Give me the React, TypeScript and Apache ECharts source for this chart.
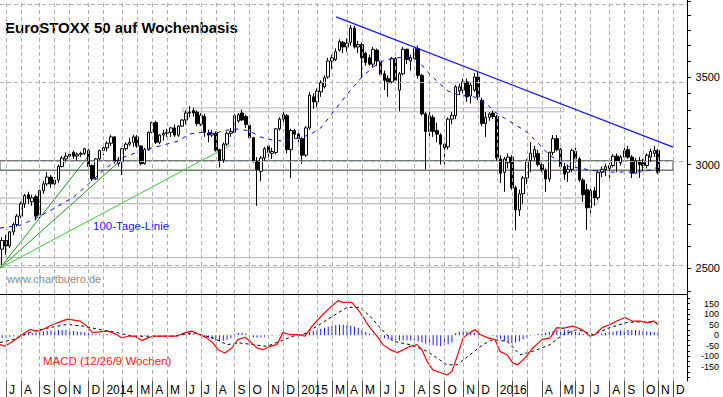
import React, { useEffect, useRef } from "react";
import * as echarts from "echarts";

const W = 723;
const H = 397;
const FONT = "Arial, 'Liberation Sans', Helvetica, sans-serif";

// Weekly candles (Friday-dated weeks, first = 2013-06-21), [open, close, low, high]
const candles2013 = [
  [2690, 2550, 2530, 2720], [2585, 2625, 2512, 2640], [2625, 2600, 2560, 2650], [2600, 2665, 2590, 2670],
  [2665, 2700, 2650, 2710], [2700, 2740, 2690, 2750], [2740, 2800, 2730, 2810], [2800, 2840, 2780, 2850],
  [2845, 2825, 2800, 2860], [2810, 2830, 2790, 2845], [2835, 2740, 2720, 2845], [2745, 2865, 2730, 2870],
  [2865, 2900, 2850, 2915], [2900, 2935, 2890, 2960], [2935, 2900, 2880, 2945], [2900, 2920, 2880, 2935],
  [2920, 2990, 2905, 3000], [2990, 3035, 2985, 3045], [3030, 3045, 3010, 3065], [3045, 3055, 3020, 3065],
  [3065, 3045, 3030, 3075], [3045, 3055, 3020, 3065], [3055, 3060, 3040, 3070], [3060, 3085, 3050, 3090],
  [3075, 2990, 2980, 3085], [2995, 2925, 2915, 3000], [2925, 3030, 2920, 3035], [3030, 3075, 3025, 3080],
];
const candles2014 = [
  [3075, 3090, 3050, 3110], [3090, 3115, 3070, 3125], [3115, 3150, 3100, 3160], [3150, 3015, 3005, 3155],
  [3005, 3020, 2990, 3040], [3015, 3085, 2945, 3090], [3085, 3110, 3075, 3120], [3110, 3120, 3100, 3145],
  [3120, 3150, 3095, 3160], [3150, 3100, 3090, 3160], [3100, 3005, 2995, 3105], [3005, 3080, 3000, 3090],
  [3080, 3175, 3075, 3180], [3175, 3230, 3170, 3235], [3230, 3120, 3110, 3240], [3120, 3160, 3110, 3165],
  [3160, 3170, 3130, 3190], [3170, 3175, 3150, 3195], [3175, 3200, 3150, 3205], [3200, 3160, 3150, 3220],
  [3160, 3210, 3150, 3215], [3210, 3245, 3205, 3250], [3245, 3285, 3220, 3300], [3285, 3290, 3260, 3325],
  [3300, 3285, 3265, 3315], [3290, 3225, 3210, 3300], [3220, 3272, 3210, 3285], [3265, 3175, 3150, 3280],
  [3170, 3160, 3120, 3190], [3160, 3170, 3150, 3190], [3170, 3075, 3070, 3180], [3080, 3020, 2985, 3085],
  [3025, 3110, 3010, 3120], [3110, 3170, 3100, 3180], [3170, 3180, 3150, 3200], [3175, 3270, 3170, 3280],
  [3240, 3275, 3230, 3285], [3285, 3245, 3240, 3305], [3265, 3220, 3200, 3275], [3215, 3145, 3135, 3225],
  [3145, 3020, 3010, 3150], [3015, 2975, 2790, 3040], [2965, 3035, 2915, 3045], [3035, 3085, 3020, 3095],
  [3100, 3065, 3040, 3110], [3060, 3070, 3030, 3090], [3065, 3195, 3055, 3200], [3195, 3250, 3185, 3260],
  [3250, 3275, 3215, 3300], [3270, 3080, 3060, 3280], [3080, 3185, 2930, 3195], [3185, 3165, 3140, 3195],
];
const candles2015 = [
  [3165, 3140, 3120, 3180], [3140, 3050, 3005, 3150], [3050, 3200, 3040, 3210], [3200, 3390, 3190, 3410],
  [3380, 3350, 3310, 3400], [3350, 3415, 3320, 3430], [3410, 3465, 3380, 3480], [3440, 3495, 3430, 3510],
  [3500, 3600, 3490, 3620], [3600, 3620, 3550, 3640], [3610, 3660, 3600, 3680], [3670, 3725, 3660, 3740],
  [3720, 3690, 3650, 3730], [3690, 3715, 3660, 3745], [3720, 3815, 3700, 3836], [3815, 3690, 3680, 3830],
  [3690, 3705, 3650, 3730], [3705, 3620, 3500, 3720], [3650, 3590, 3570, 3660], [3620, 3580, 3570, 3640],
  [3580, 3675, 3560, 3690], [3670, 3600, 3570, 3680], [3600, 3515, 3500, 3610], [3520, 3480, 3420, 3540],
  [3490, 3465, 3380, 3510], [3470, 3615, 3460, 3625], [3615, 3480, 3460, 3625], [3420, 3520, 3295, 3530],
  [3520, 3675, 3510, 3690], [3675, 3610, 3580, 3680], [3600, 3620, 3540, 3640], [3615, 3680, 3600, 3690],
  [3680, 3510, 3490, 3700], [3510, 3280, 3270, 3520], [3280, 3180, 2975, 3290], [3180, 3270, 3150, 3290],
  [3260, 3180, 3150, 3275], [3185, 3165, 3120, 3230], [3160, 3110, 3000, 3170], [3110, 3090, 2990, 3120],
  [3095, 3250, 3080, 3260], [3250, 3270, 3220, 3290], [3270, 3440, 3250, 3450], [3415, 3440, 3390, 3460],
  [3420, 3470, 3400, 3490], [3470, 3380, 3350, 3490], [3385, 3450, 3340, 3470], [3420, 3500, 3410, 3525],
  [3500, 3380, 3360, 3530], [3360, 3225, 3210, 3375], [3225, 3260, 3150, 3290], [3260, 3280, 3240, 3290],
  [3285, 3265, 3250, 3300],
];
const candles2016 = [
  [3265, 3035, 3020, 3275], [3030, 2955, 2905, 3050], [2960, 3030, 2860, 3040], [3010, 3040, 2980, 3060],
  [3040, 2880, 2870, 3050], [2880, 2770, 2672, 2890], [2770, 2850, 2740, 2870], [2850, 2930, 2800, 2940],
  [2930, 3015, 2900, 3030], [3020, 3060, 2960, 3120], [3040, 3080, 3020, 3100], [3060, 3000, 2990, 3080],
  [3000, 2975, 2960, 3010], [2970, 2925, 2860, 2980], [2925, 3065, 2910, 3070], [3065, 3140, 3050, 3160],
  [3140, 3080, 3070, 3160], [3080, 2990, 2980, 3090], [2990, 2950, 2920, 3010], [2960, 2975, 2910, 3000],
  [2975, 3075, 2960, 3085], [3070, 3030, 3010, 3090], [3030, 2920, 2910, 3040], [2920, 2845, 2810, 2930],
  [2870, 2780, 2675, 2900], [2780, 2865, 2740, 2880], [2865, 2830, 2790, 2885], [2830, 2960, 2820, 2970],
  [2960, 2975, 2935, 2990], [2975, 2990, 2940, 3005], [2980, 2995, 2925, 3010], [2995, 3045, 2985, 3055],
  [3045, 3020, 2960, 3060], [3010, 3040, 2995, 3050], [3040, 3075, 3025, 3090], [3080, 3040, 3030, 3100],
  [3040, 2955, 2930, 3050], [2955, 3020, 2950, 3035], [3020, 3000, 2930, 3040], [3010, 2995, 2965, 3030],
  [2995, 3050, 2980, 3060], [3040, 3070, 3015, 3085], [3060, 3075, 3040, 3100], [3075, 2960, 2950, 3085],
];

// 100-day moving average: [week index, level]
const MA_PTS = [
  [0.4, 2683], [6, 2697], [10, 2730], [15, 2779], [20, 2833], [24, 2899], [28, 2971], [32, 3029], [38, 3073],
  [43, 3100], [48, 3127], [51, 3166], [55, 3177], [58, 3172], [61, 3188], [64, 3194], [67, 3183], [70, 3149],
  [73, 3133], [76, 3127], [80, 3144], [83, 3161], [86, 3200], [88.5, 3268], [91, 3338], [94, 3421], [97, 3500],
  [100, 3562], [103, 3606], [106, 3619], [109, 3626], [112, 3606], [114, 3543], [117, 3475], [120, 3415],
  [123, 3391], [127, 3379], [130, 3344], [132.5, 3291], [135, 3256], [138, 3217], [141, 3177], [144.5, 3105],
  [147, 3051], [150, 3014], [152.5, 2987], [155, 2982], [158, 2971], [162, 2961], [166, 2961], [171, 2961],
  [174, 2971], [176, 2987],
];

// drawn lines: [week index, level]
const TREND_LINE = [[90.1, 3890], [180, 3094]];
const FAN_A = [[0.4, 2500], [24.4, 3055]];
const FAN_B = [[0.4, 2500], [32.7, 3024]];
const FAN_C = [[0.4, 2500], [62.0, 3105]];

// zones: [from week, to week, low, high]
const ZONES = [
  [49.2, 150.9, 3292, 3315],
  [0.4, 180, 2970, 3021],
  [0.4, 160, 2800, 2829],
  [0.4, 138.9, 2504, 2547],
];

// MACD lines: [week index, value]
const MACD_PTS = [
  [0.4, -45], [1.7, -53], [3.9, -29], [6.3, 3], [8.4, 27], [10.3, 19], [11.9, 27], [14.5, 51], [16.9, 67],
  [18.5, 76], [21.7, 67], [23.6, 43], [25, 12], [27.1, 16], [29.2, 19], [31.1, 7], [33, -13], [34.6, -5],
  [36.4, -5], [38.3, -25], [39.9, -13], [41.2, -5], [45, -5], [47.6, -5], [49.8, 12], [51.6, 19], [53.2, 7],
  [55.6, -13], [57.2, -37], [58.6, -69], [60.4, -85], [62.3, -61], [63.9, -21], [65.8, -10], [67.1, -29],
  [69, -61], [70.6, -69], [72.5, -53], [74.3, -45], [75.9, 12], [77.8, 3], [79.9, 3], [81.8, -5], [83.7, 43],
  [85.8, 84], [88.5, 132], [90.6, 164], [91.9, 156], [94.3, 156], [96.5, 108], [99.1, 36], [101, -5],
  [102.6, -45], [104.5, -69], [106.4, -83], [108, -69], [109.8, -53], [111.7, -45], [113, -69], [114.4, -125],
  [115.9, -165], [118.4, -181], [119.7, -189], [121, -173], [122.4, -101], [124, -13], [125.8, 12],
  [127.2, 27], [128.5, 3], [130.6, -13], [132.5, -21], [133.8, -77], [135.7, -93], [137.3, -133],
  [138.6, -141], [140.5, -109], [142.6, -61], [145, -21], [147.2, -13], [149, 36], [150.6, 32], [153.3, 43],
  [155.7, 27], [157.9, -5], [159.2, 3], [161.1, 36], [163.2, 51], [165, 67], [167.2, 84], [169.1, 67],
  [171.2, 67], [173.1, 60], [174.7, 67], [176, 51],
];
const SIGNAL_PTS = [
  [0.4, -35], [3.9, -21], [9.2, 19], [13.7, 36], [18.3, 51], [22.6, 43], [27.1, 27], [31.6, 12], [35.9, -5],
  [40.4, -5], [46.6, -5], [51.9, 12], [57.2, -13], [61, -45], [64.4, -37], [67.9, -45], [71.7, -53],
  [75.1, -29], [78.6, -5], [81.3, 3], [85, 43], [89.3, 91], [93, 132], [96.5, 132], [99.1, 91], [101.8, 36],
  [105.3, -29], [109.8, -45], [114.4, -77], [119.7, -141], [122.4, -141], [125.8, -93], [129.3, -45],
  [132, -21], [135.7, -29], [139.2, -93], [142.6, -77], [147.2, -45], [150.7, 3], [154.4, 27], [158.7, 3],
  [163.2, 36], [167.7, 60], [172, 64], [175.7, 60],
];
// histogram, one value per week from week 0
const HIST = [
  -10, -12, -10, -8, -5, -2,
  4, 8, 10, 12, 14, 16, 18, 20, 22, 24, 25, 25, 24, 22, 20, 18, 16, 14, 10,
  6, 4, 3, 3, 4, 4, 3, 2, 2, 1, 1, 0,
  -3, -4, -3, -2, -1, 0, 0, 1, 1, 1, 0, 1, 2,
  4, 5, 4, 2, -2,
  -8, -14, -20, -26, -29, -27, -22, -15,
  5, 10, 12, 8, -5, -10, -12, -10, -8, -6, -4, -2, 2, 3, 2, 1, 1,
  2, 5, 10, 15, 20, 25, 30, 35, 40, 45, 48, 50, 50, 48, 45, 40, 35,
  25, 15, 8, 3, 0,
  -8, -15, -20, -25, -25, -25, -25, -25, -25, -25, -30, -35, -40, -45, -48, -50, -53, -50, -45, -35,
  10, 15, 18, 18, 15, 10,
  5, 2, 0, -2, -4,
  -10, -20, -28, -35, -37, -35, -30, -20, -10,
  -3, 2, 5, 8, 10,
  15, 20, 25, 27, 27, 25, 22, 18, 12, 5,
  -2, -5, -3, 2,
  8, 12, 15, 18, 20, 22, 24, 25, 25, 24, 22, 20, 18, 16, 15, 14,
];

// first weekly bar of each month (week index) and its label
const MONTH_STARTS = [
  2, 6, 11, 15, 19, 24,
  28, 33, 37, 41, 45, 50, 54, 58, 63, 67, 72, 76,
  80, 85, 89, 93, 97, 102, 106, 111, 115, 119, 124, 128,
  133, 137, 141, 145, 150, 154, 158, 163, 167, 172, 176, 180,
];
const MONTH_LABELS = [
  "J", "A", "S", "O", "N", "D",
  "2014", "", "M", "A", "M", "J", "J", "A", "S", "O", "N", "D",
  "2015", "", "M", "A", "M", "J", "J", "A", "S", "O", "N", "D",
  "2016", "", "", "A", "M", "J", "J", "A", "S", "O", "N", "D",
];

const PRICE_GRID = [2500, 3000, 3500, 4000];
const PRICE_TICKS = [2400, 2500, 2600, 2700, 2800, 2900, 3000, 3100, 3200, 3300, 3400, 3500, 3600, 3700, 3800, 3900, 4000];
const PRICE_LABELS = [2500, 3000, 3500];
const MACD_TICKS = [-200, -175, -150, -125, -100, -75, -50, -25, 0, 25, 50, 75, 100, 125, 150, 175];
const MACD_LABELS = [-150, -100, -50, 0, 50, 100, 150];

const X_MIN = 0.4;
const X_MAX = 183.74;
const P_MIN = 2389;
const P_MAX = 4008;
const M_MIN = -218;
const M_MAX = 191;

const LOG = (v: number) => Math.log10(v);

function buildOption() {
  const candles = [...candles2013, ...candles2014, ...candles2015, ...candles2016];
  const gridLine = { color: "#b0b0b0", type: [4, 3], width: 1 };
  const zoneColors = ["#b4b4b4", "#6f7f6f", "#b0a9b0", "#b4b4b4"];
  const fanStyle = (color: string) => ({ color, width: 1 });
  const xAxisBase = { type: "value", min: X_MIN, max: X_MAX, splitLine: { show: false } };

  return {
    animation: false,
    backgroundColor: "#ffffff",
    grid: [
      { left: 0, top: 0, width: 687, height: 294 },
      { left: 0, top: 295, width: 687, height: 86 },
    ],
    xAxis: [
      {
        ...xAxisBase,
        gridIndex: 0,
        axisLine: { show: true, onZero: false, lineStyle: { color: "#000", width: 1 } },
        axisTick: { show: false },
        axisLabel: { show: false },
      },
      {
        ...xAxisBase,
        gridIndex: 1,
        axisLine: { show: false, onZero: false },
        axisTick: { show: true, customValues: MONTH_STARTS, length: 16, lineStyle: { color: "#505050", width: 1 } },
        axisLabel: {
          show: true,
          customValues: MONTH_STARTS,
          formatter: (v: number) => {
            const k = MONTH_STARTS.indexOf(Math.round(v));
            return k >= 0 ? MONTH_LABELS[k] : "";
          },
          align: "left",
          padding: [0, 0, 0, 3],
          margin: 3,
          fontSize: 12,
          color: "#000",
          fontFamily: FONT,
        },
      },
    ],
    yAxis: [
      {
        type: "value",
        gridIndex: 0,
        position: "right",
        min: LOG(P_MIN),
        max: LOG(P_MAX),
        axisLine: { show: true, onZero: false, lineStyle: { color: "#000", width: 1 } },
        axisTick: { show: true, customValues: PRICE_TICKS.map(LOG), length: 4, lineStyle: { color: "#000" } },
        axisLabel: {
          show: true,
          customValues: PRICE_LABELS.map(LOG),
          formatter: (v: number) => String(Math.round(Math.pow(10, v))),
          align: "right",
          margin: 33,
          fontSize: 11,
          color: "#000",
          fontFamily: FONT,
        },
        splitLine: { show: false },
      },
      {
        type: "value",
        gridIndex: 1,
        position: "right",
        min: M_MIN,
        max: M_MAX,
        axisLine: { show: true, onZero: false, lineStyle: { color: "#000", width: 1 } },
        axisTick: { show: true, customValues: MACD_TICKS, length: 3, lineStyle: { color: "#000" } },
        axisLabel: {
          show: true,
          customValues: MACD_LABELS,
          align: "right",
          margin: 32,
          fontSize: 9,
          color: "#000",
          fontFamily: FONT,
        },
        splitLine: { show: false },
      },
    ],
    series: [
      {
        type: "line",
        xAxisIndex: 0,
        yAxisIndex: 0,
        data: [],
        z: 0,
        silent: true,
        markLine: {
          silent: true,
          symbol: ["none", "none"],
          label: { show: false },
          lineStyle: gridLine,
          data: [
            ...MONTH_STARTS.map((m) => ({ xAxis: m })),
            ...PRICE_GRID.map((p) => ({ yAxis: LOG(p) })),
          ],
        },
        markArea: {
          silent: true,
          data: ZONES.map((z, k) => [
            {
              xAxis: z[0],
              yAxis: LOG(z[2]),
              itemStyle: { color: "rgba(0,0,0,0)", borderColor: zoneColors[k], borderWidth: k === 1 ? 1.4 : 1 },
            },
            { xAxis: z[1], yAxis: LOG(z[3]) },
          ]),
        },
      },
      {
        type: "line",
        xAxisIndex: 1,
        yAxisIndex: 1,
        data: [],
        z: 0,
        silent: true,
        markLine: {
          silent: true,
          symbol: ["none", "none"],
          label: { show: false },
          lineStyle: gridLine,
          data: MONTH_STARTS.map((m) => ({ xAxis: m })),
        },
      },
      {
        type: "line",
        xAxisIndex: 0,
        yAxisIndex: 0,
        data: FAN_A.map(([i, v]) => [i, LOG(v)]),
        symbol: "none",
        lineStyle: fanStyle("#1f8f1f"),
        z: 3,
      },
      {
        type: "line",
        xAxisIndex: 0,
        yAxisIndex: 0,
        data: FAN_B.map(([i, v]) => [i, LOG(v)]),
        symbol: "none",
        lineStyle: fanStyle("#1f8f1f"),
        z: 3,
      },
      {
        type: "line",
        xAxisIndex: 0,
        yAxisIndex: 0,
        data: FAN_C.map(([i, v]) => [i, LOG(v)]),
        symbol: "none",
        lineStyle: fanStyle("#3cc83c"),
        z: 3,
      },
      {
        type: "candlestick",
        xAxisIndex: 0,
        yAxisIndex: 0,
        data: candles.map((c, i) => [i, LOG(c[0]), LOG(c[1]), LOG(c[2]), LOG(c[3])]),
        encode: { x: 0, y: [1, 2, 3, 4] },
        barWidth: 3,
        itemStyle: { color: "#ffffff", color0: "#000000", borderColor: "#000000", borderColor0: "#000000", borderWidth: 1 },
        z: 4,
      },
      {
        type: "line",
        xAxisIndex: 0,
        yAxisIndex: 0,
        data: MA_PTS.map(([i, v]) => [i, LOG(v)]),
        symbol: "none",
        lineStyle: { color: "#0000ff", width: 1, type: [4, 5] },
        z: 5,
      },
      {
        type: "line",
        xAxisIndex: 0,
        yAxisIndex: 0,
        data: TREND_LINE.map(([i, v]) => [i, LOG(v)]),
        symbol: "none",
        lineStyle: { color: "#1414ff", width: 1.3 },
        z: 5,
      },
      {
        type: "bar",
        xAxisIndex: 1,
        yAxisIndex: 1,
        data: HIST.map((v, i) => [i, v]),
        barWidth: 1,
        itemStyle: { color: "#1a1aff" },
        z: 2,
      },
      {
        type: "line",
        xAxisIndex: 1,
        yAxisIndex: 1,
        data: SIGNAL_PTS,
        symbol: "none",
        lineStyle: { color: "#000", width: 1, type: [3, 3] },
        z: 3,
      },
      {
        type: "line",
        xAxisIndex: 1,
        yAxisIndex: 1,
        data: MACD_PTS,
        symbol: "none",
        lineStyle: { color: "#ff0000", width: 1.2 },
        z: 4,
      },
    ],
    graphic: [
      {
        type: "text",
        x: 5,
        y: 27,
        style: { text: "EuroSTOXX 50 auf Wochenbasis", fontSize: 15, fontWeight: "bold", fontFamily: FONT, fill: "#000", verticalAlign: "middle" },
      },
      {
        type: "text",
        x: 93,
        y: 226,
        style: { text: "100-Tage-Linie", fontSize: 11.5, fontFamily: FONT, fill: "#1414ff", verticalAlign: "middle" },
      },
      {
        type: "text",
        x: 7,
        y: 279,
        style: { text: "www.chartbuero.de", fontSize: 11, fontFamily: FONT, fill: "#8c8c8c", verticalAlign: "middle" },
      },
      {
        type: "text",
        x: 43,
        y: 361,
        style: { text: "MACD (12/26/9 Wochen)", fontSize: 11.5, fontFamily: FONT, fill: "#ff1414", verticalAlign: "middle" },
      },
    ],
  };
}

export default function App() {
  const ref = useRef<HTMLDivElement>(null);
  useEffect(() => {
    if (!ref.current) return;
    const chart = echarts.init(ref.current, null, { renderer: "svg", width: W, height: H });
    chart.setOption(buildOption() as any);
    return () => chart.dispose();
  }, []);
  return (
    <div
      ref={ref}
      style={{ position: "absolute", left: 0, top: 0, width: W, height: H, background: "#fff" }}
    />
  );
}
